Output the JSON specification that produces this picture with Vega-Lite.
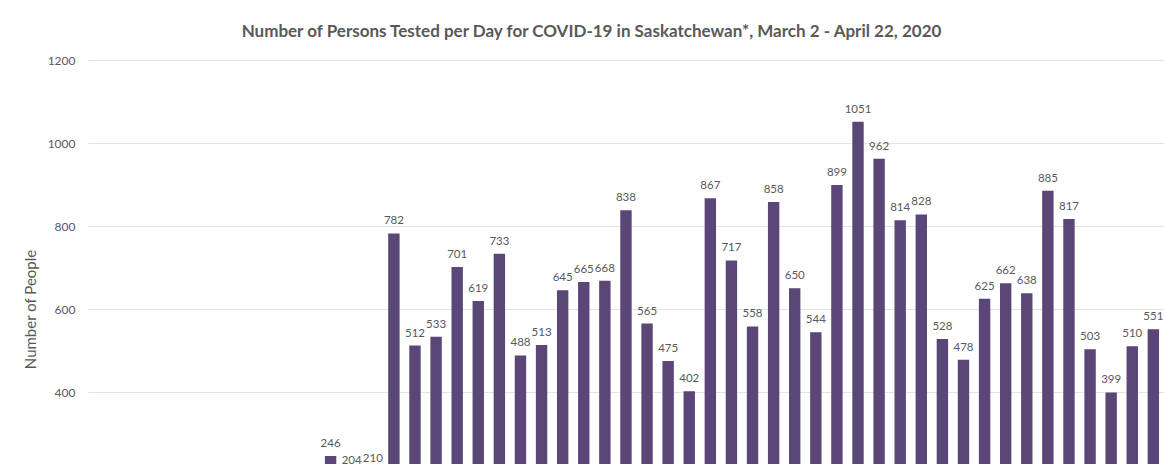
{
  "$schema": "https://vega.github.io/schema/vega-lite/v6.json",
  "autosize": {"type": "none"},
  "padding": {"left": 88, "top": 60, "right": 10, "bottom": 60},
  "width": 1097,
  "height": 498,
  "background": "white",
  "title": {
    "text": "Number of Persons Tested per Day for COVID-19 in Saskatchewan*, March 2 - April 22, 2020",
    "font": "Lato",
    "fontSize": 17,
    "fontWeight": "bold",
    "color": "#595959",
    "anchor": "middle",
    "dx": -45,
    "offset": 13
  },
  "data": {
    "values": [
      {"date": "2-Mar", "people": 3},
      {"date": "3-Mar", "people": 5},
      {"date": "4-Mar", "people": 8},
      {"date": "5-Mar", "people": 10},
      {"date": "6-Mar", "people": 14},
      {"date": "7-Mar", "people": 20},
      {"date": "8-Mar", "people": 26},
      {"date": "9-Mar", "people": 40},
      {"date": "10-Mar", "people": 62},
      {"date": "11-Mar", "people": 95},
      {"date": "12-Mar", "people": 150},
      {"date": "13-Mar", "people": 246},
      {"date": "14-Mar", "people": 204},
      {"date": "15-Mar", "people": 210},
      {"date": "16-Mar", "people": 782},
      {"date": "17-Mar", "people": 512},
      {"date": "18-Mar", "people": 533},
      {"date": "19-Mar", "people": 701},
      {"date": "20-Mar", "people": 619},
      {"date": "21-Mar", "people": 733},
      {"date": "22-Mar", "people": 488},
      {"date": "23-Mar", "people": 513},
      {"date": "24-Mar", "people": 645},
      {"date": "25-Mar", "people": 665},
      {"date": "26-Mar", "people": 668},
      {"date": "27-Mar", "people": 838},
      {"date": "28-Mar", "people": 565},
      {"date": "29-Mar", "people": 475},
      {"date": "30-Mar", "people": 402},
      {"date": "31-Mar", "people": 867},
      {"date": "1-Apr", "people": 717},
      {"date": "2-Apr", "people": 558},
      {"date": "3-Apr", "people": 858},
      {"date": "4-Apr", "people": 650},
      {"date": "5-Apr", "people": 544},
      {"date": "6-Apr", "people": 899},
      {"date": "7-Apr", "people": 1051},
      {"date": "8-Apr", "people": 962},
      {"date": "9-Apr", "people": 814},
      {"date": "10-Apr", "people": 828},
      {"date": "11-Apr", "people": 528},
      {"date": "12-Apr", "people": 478},
      {"date": "13-Apr", "people": 625},
      {"date": "14-Apr", "people": 662},
      {"date": "15-Apr", "people": 638},
      {"date": "16-Apr", "people": 885},
      {"date": "17-Apr", "people": 817},
      {"date": "18-Apr", "people": 503},
      {"date": "19-Apr", "people": 399},
      {"date": "20-Apr", "people": 510},
      {"date": "21-Apr", "people": 551}
    ]
  },
  "encoding": {
    "x": {
      "field": "date",
      "type": "ordinal",
      "sort": null,
      "scale": {
        "domain": ["2-Mar","3-Mar","4-Mar","5-Mar","6-Mar","7-Mar","8-Mar","9-Mar","10-Mar","11-Mar","12-Mar","13-Mar","14-Mar","15-Mar","16-Mar","17-Mar","18-Mar","19-Mar","20-Mar","21-Mar","22-Mar","23-Mar","24-Mar","25-Mar","26-Mar","27-Mar","28-Mar","29-Mar","30-Mar","31-Mar","1-Apr","2-Apr","3-Apr","4-Apr","5-Apr","6-Apr","7-Apr","8-Apr","9-Apr","10-Apr","11-Apr","12-Apr","13-Apr","14-Apr","15-Apr","16-Apr","17-Apr","18-Apr","19-Apr","20-Apr","21-Apr","22-Apr"],
        "paddingInner": 0.46,
        "paddingOuter": 0.23
      },
      "axis": {
        "title": null,
        "labels": false,
        "ticks": false,
        "domainColor": "#d9d9d9"
      }
    },
    "y": {
      "field": "people",
      "type": "quantitative",
      "scale": {"domain": [0, 1200], "nice": false},
      "axis": {
        "title": "Number of People",
        "titleFont": "Lato",
        "titleFontSize": 15,
        "titleFontWeight": "normal",
        "titleColor": "#595959",
        "titlePadding": 9,
        "values": [400, 600, 800, 1000, 1200],
        "format": "d",
        "labelFont": "Lato",
        "labelFontSize": 12,
        "labelColor": "#595959",
        "labelPadding": 13,
        "ticks": false,
        "domain": false,
        "gridColor": "#e3e3e3",
        "gridWidth": 1
      }
    }
  },
  "layer": [
    {"mark": {"type": "bar", "color": "#5a4677"}},
    {
      "transform": [{"filter": "datum.people >= 180"}],
      "mark": {
        "type": "text",
        "font": "Lato",
        "fontSize": 11.5,
        "color": "#595959",
        "align": "center",
        "baseline": "alphabetic",
        "dy": -9
      },
      "encoding": {"text": {"field": "people", "type": "quantitative"}}
    }
  ],
  "config": {"view": {"stroke": null}}
}
